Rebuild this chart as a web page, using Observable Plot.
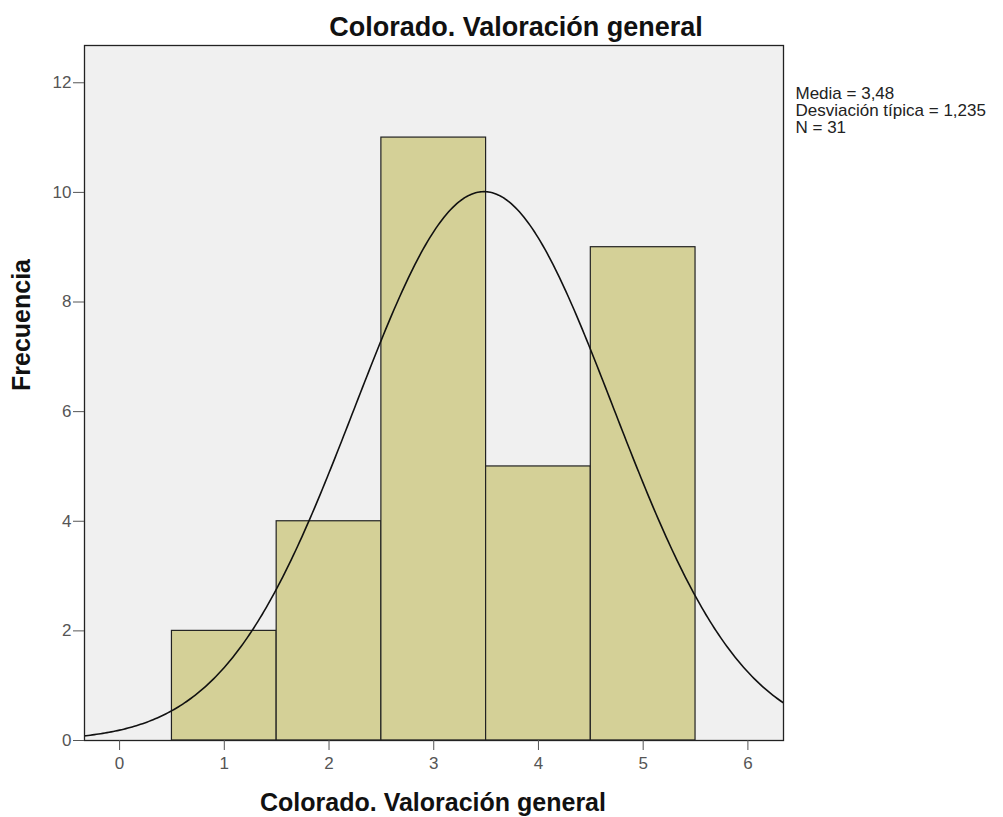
<!DOCTYPE html>
<html><head><meta charset="utf-8">
<script src="https://cdn.jsdelivr.net/npm/d3@7"></script>
<script src="https://cdn.jsdelivr.net/npm/@observablehq/plot@0.6"></script>
<style>body{margin:0;background:#fff;font-family:"Liberation Sans",Arial,sans-serif}</style>
</head><body><div id="chart"></div>
<script>
const values = [1, 2, 3, 4, 5];
const counts = [2, 4, 11, 5, 9];
const mean = 3.48, sd = 1.235, n = 31;
const statsText = ["Media = 3,48", "Desviación típica = 1,235", "N = 31"];
const xTicks = [0, 1, 2, 3, 4, 5, 6];
const yTicks = [0, 2, 4, 6, 8, 10, 12];
const title = "Colorado. Valoración general";
const xLabel = "Colorado. Valoración general";
const yLabel = "Frecuencia";

const bars = values.map((v, i) => ({x1: v - 0.5, x2: v + 0.5, y: counts[i]}));
// fitted normal curve from the reported mean / sd / N (bin width 1)
const curve = d3.range(-0.34, 6.35, 0.02).map(x => ({x, y: n / (sd * Math.sqrt(2 * Math.PI)) * Math.exp(-0.5 * ((x - mean) / sd) ** 2)}));

const chart = Plot.plot({
  width: 1003, height: 817,
  marginLeft: 84, marginRight: 220, marginTop: 45, marginBottom: 77,
  style: {fontFamily: "Liberation Sans, Arial, sans-serif", background: "#fff"},
  x: {domain: [-0.335, 6.34], ticks: xTicks, label: null},
  y: {domain: [0, 12.68], ticks: yTicks, label: null},
  marks: [
    Plot.frame({fill: "#f0f0f0"}),
    Plot.rectY(bars, {x1: "x1", x2: "x2", y: "y", fill: "#d4d097", stroke: "#222", strokeWidth: 1.2}),
    Plot.line(curve, {x: "x", y: "y", stroke: "#111", strokeWidth: 1.6, clip: true}),
    Plot.frame({stroke: "#222", strokeWidth: 1.3}),
    Plot.axisX({ticks: xTicks, tickFormat: d3.format("d"), tickSize: 10, tickPadding: 6, fontSize: 17, color: "#555", label: null}),
    Plot.axisY({ticks: yTicks, tickFormat: d3.format("d"), tickSize: 11, tickPadding: 2, fontSize: 17, color: "#555", label: null}),
    Plot.text([title], {frameAnchor: "top", lineAnchor: "middle", dy: -18.6, dx: 82, fontSize: 27, fontWeight: "bold", fill: "#111"}),
    Plot.text([xLabel], {frameAnchor: "bottom", lineAnchor: "middle", dy: 62, dx: -1, fontSize: 25, fontWeight: "bold", fill: "#111"}),
    Plot.text([yLabel], {frameAnchor: "left", lineAnchor: "middle", rotate: -90, dx: -63, dy: -2, fontSize: 25, fontWeight: "bold", fill: "#111"}),
    Plot.text([statsText.join("\n")], {frameAnchor: "top-right", textAnchor: "start", lineAnchor: "top", dx: 12, dy: 41, fontSize: 17, lineHeight: 1.02, fill: "#222"})
  ]
});
document.getElementById("chart").append(chart);
</script></body></html>
